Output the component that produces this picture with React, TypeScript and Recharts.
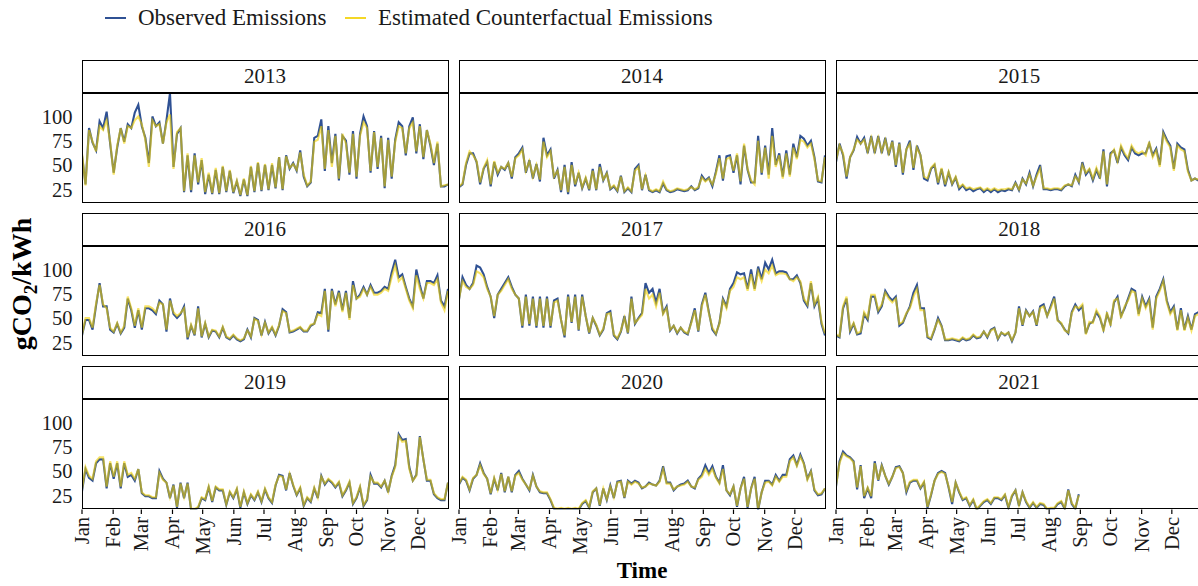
import React from 'react';
import { LineChart, Line, XAxis, YAxis } from 'recharts';

const YEARS = [2013, 2014, 2015, 2016, 2017, 2018, 2019, 2020, 2021];
const MONTHS = ['Jan', 'Feb', 'Mar', 'Apr', 'May', 'Jun', 'Jul', 'Aug', 'Sep', 'Oct', 'Nov', 'Dec'];
const MONTH_STARTS = [0, 31, 59, 90, 120, 151, 181, 212, 243, 273, 304, 334];
const Y_TICKS = [25, 50, 75, 100];
const STEP_DAYS = 3.5;

const obs2013 = [60,30,88,73,65,95,88,105,72, 42,68,88,74,92,88,104,112, 90,78,52,100,90,94,72,96,124, 48,82,88,22,60,22,62,30,55, 20,40,20,45,20,48,22,44,21, 33,18,35,18,48,22,52,23, 50,24,50,26,58,24,60,46,52, 44,65,38,28,32,78,80,97,44, 90,52,82,34,80,75,40,85, 36,82,100,90,42,85,46,80,26, 78,36,76,94,90,60,90,99,62, 92,56,86,70,50,72,28,28,30];
const cf2013 = [62,29,86,74,64,90,86,96,74, 40,70,88,72,90,88,96,100, 92,76,48,96,90,92,72,94,102, 46,84,88,23,62,24,60,32,57, 22,42,21,47,21,49,23,45,22, 34,19,36,19,49,23,53,24, 51,25,52,27,58,25,59,47,51, 45,63,40,29,33,74,76,90,46, 86,48,80,36,82,72,42,82, 38,80,94,88,44,84,48,78,28, 76,38,74,90,88,62,88,94,64, 90,58,86,72,52,74,28,29,30];

const obs2014 = [27,30,50,62,62,53,30,46,53, 28,53,40,48,45,52,36,58, 62,68,42,55,36,51,33,78,60, 66,36,45,22,50,20,53,28,42, 26,36,24,46,24,51,34,42,25, 28,23,39,22,26,22,46,50, 24,40,24,22,24,22,31,24,22, 23,25,24,23,24,28,24,26,39, 34,37,28,43,60,34,59,60, 42,60,30,70,45,32,32,80,40, 70,40,88,50,62,38,65,40,72, 58,80,77,70,75,58,33,32,60];
const cf2014 = [28,31,52,64,60,54,32,47,55, 30,54,42,48,46,52,38,57, 60,66,44,54,38,50,35,74,58, 64,38,44,24,48,22,50,30,42, 27,37,25,44,25,48,35,41,26, 29,24,38,23,27,23,44,48, 25,39,25,23,25,23,33,25,23, 24,26,25,24,25,27,25,27,37, 33,36,30,41,57,36,56,58, 44,62,33,72,46,34,30,75,42, 68,36,80,48,60,36,62,38,68, 56,76,74,68,72,56,34,33,58];

const obs2015 = [53,72,60,36,58,65,79,72,78, 62,80,62,80,62,78,60,75, 48,73,40,66,75,45,70,60,36, 34,46,50,30,46,28,42,30,37, 25,29,24,26,23,25,26,22,25, 22,25,22,24,23,25,24,32, 24,36,30,42,28,40,50,25,25, 24,25,25,24,28,30,28,40,32, 53,40,45,34,45,36,66,28, 62,65,52,68,60,55,68,62,60, 62,62,72,60,67,50,84,76,70, 46,72,68,66,45,34,36,34,34];
const cf2015 = [55,70,62,38,58,66,76,72,76, 64,78,64,78,64,76,62,74, 50,72,42,66,72,47,68,60,38, 36,47,51,32,47,30,43,31,38, 27,30,26,27,25,26,27,24,26, 24,26,24,25,25,26,25,31, 25,35,31,40,29,38,46,26,26, 25,26,26,25,29,30,29,38,33, 50,42,46,36,47,38,64,30, 60,66,54,70,62,57,70,64,62, 64,60,74,58,65,48,82,74,68, 44,70,66,64,43,34,36,35,34];

const obs2016 = [32,48,48,38,63,86,62,62,38, 35,44,34,40,70,58,40,58, 38,60,60,58,54,68,64,36,70, 54,50,54,62,28,42,32,62,30, 44,30,37,36,30,40,30,28,32, 28,26,28,38,30,50,48,32, 46,34,40,32,42,59,56,35, 36,38,40,36,36,42,44,56,55, 80,36,80,64,78,58,78,50,88, 70,74,82,74,84,76,76,78,82, 80,97,110,92,95,82,70,62,100, 84,70,88,88,86,94,68,62,80];
const cf2016 = [33,50,50,40,65,84,64,60,40, 36,45,35,42,72,60,42,60, 40,62,62,60,56,66,64,38,68, 56,52,55,60,30,43,33,60,31, 45,31,38,37,31,41,31,29,33, 29,27,29,37,31,49,47,33, 45,35,41,33,43,57,55,36, 37,39,41,37,37,43,44,54,52, 78,38,78,62,76,56,76,48,84, 70,72,80,74,82,74,74,76,80, 78,92,104,88,92,80,68,60,94, 80,70,86,86,84,90,66,58,78];

const obs2017 = [69,92,84,80,86,104,102,95,82, 72,50,74,80,86,92,82,74, 70,40,74,42,72,40,72,40,72, 40,68,70,48,30,74,45,74,37, 74,52,34,50,42,32,38,55,57, 32,28,36,52,34,72,44,50, 55,86,76,80,66,80,55,62, 37,42,34,40,35,33,46,60,36, 64,76,56,38,33,45,70,62,80, 86,97,95,96,80,100,80,103,90, 107,100,110,96,98,98,97,90,90, 94,86,68,62,86,62,70,44,32];
const cf2017 = [70,88,82,80,84,98,96,92,80, 72,52,74,78,84,90,80,74, 70,42,72,44,70,42,70,42,70, 42,66,68,48,32,72,46,72,38, 72,52,35,50,43,33,39,54,55, 33,29,37,50,35,70,45,49, 53,80,70,74,62,76,54,60, 38,42,35,40,36,34,45,58,37, 62,74,55,40,34,44,68,60,78, 82,92,90,92,78,95,78,98,88, 100,96,104,94,96,96,95,90,88, 92,88,70,64,88,64,72,46,34];

const obs2018 = [32,30,60,70,36,44,33,34,54, 48,72,72,56,62,78,72,68, 72,42,45,54,62,76,84,60,60, 30,28,38,50,42,27,27,28,27, 26,29,27,28,32,29,30,36,30, 38,40,28,35,32,35,26,35, 62,42,58,52,57,42,62,64,52, 62,72,48,44,38,34,56,64,58, 62,34,44,46,56,50,38,54, 44,66,72,52,60,70,80,78,54, 72,62,70,40,72,80,90,68,56, 62,38,60,38,52,38,54,56,56];
const cf2018 = [33,31,62,72,38,45,34,36,56, 50,74,74,58,64,76,70,66, 70,44,46,55,60,72,80,58,58, 31,29,39,48,41,28,28,29,28, 27,30,28,29,33,30,31,36,31, 37,39,29,35,33,35,27,35, 60,43,57,52,56,43,60,62,52, 60,70,47,45,37,35,55,62,60, 64,33,46,45,58,52,36,56, 42,68,70,50,62,68,78,76,52, 70,60,68,38,70,78,88,66,54, 60,37,58,37,50,37,52,54,55];

const obs2019 = [29,52,43,40,58,62,62,32,58, 42,58,32,58,44,46,40,52, 27,24,24,22,22,50,42,38,22, 36,12,38,22,38,10,10,12,22, 20,33,18,33,30,30,15,28,22, 31,12,28,16,25,20,28,18, 31,22,17,35,46,45,30,48, 35,25,32,14,22,18,32,22,45, 36,41,38,33,38,24,30,38,16, 22,33,14,20,46,37,37,33,40, 28,45,56,88,82,83,54,40,46, 86,62,40,40,26,22,20,20,38];
const cf2019 = [31,54,45,42,60,64,64,34,60, 44,60,34,60,46,48,42,52, 28,25,25,23,23,48,41,38,23, 35,13,37,23,37,11,11,13,23, 21,34,19,34,31,31,16,29,23, 32,13,29,17,26,21,29,19, 32,23,18,36,45,44,31,47, 36,26,33,15,23,19,33,23,44, 37,42,39,34,39,25,31,39,17, 23,34,15,21,44,38,38,34,40, 29,44,54,86,80,81,52,40,45, 85,62,41,41,27,23,21,21,38];

const obs2020 = [36,43,40,30,42,46,58,48,42, 26,42,30,48,28,44,28,46, 50,42,36,30,46,34,28,27,27, 20,11,10,11,10,11,10,11,10, 16,19,12,28,32,14,32,20,35, 22,39,40,22,40,37,40,38, 32,34,38,36,35,40,55,38, 38,30,34,36,37,40,34,32,42, 46,56,48,55,44,38,56,30,25, 34,13,32,44,12,32,44,10,28, 40,40,36,46,40,46,46,62,66, 56,67,58,42,50,30,25,26,32];
const cf2020 = [37,44,41,31,43,46,56,47,42, 27,43,31,47,29,44,29,45, 48,41,36,31,45,34,29,28,28, 21,12,11,12,11,12,11,12,11, 17,20,13,29,32,15,32,21,34, 23,38,39,23,39,36,39,37, 33,34,37,36,35,39,52,37, 37,31,34,35,36,39,34,33,41, 44,52,46,52,43,37,52,30,26, 34,14,32,42,13,32,42,11,28, 38,39,35,44,39,44,44,60,64, 55,65,57,41,49,31,26,27,32];

const obs2021 = [34,60,70,66,64,60,31,56,22, 32,22,60,40,56,45,36,44, 54,55,48,28,38,40,40,32,38, 12,25,40,48,50,48,33,16,38, 28,20,22,14,20,10,14,18,20, 16,22,22,20,25,12,24,30, 14,28,18,12,17,12,16,15,10, 11,11,16,18,11,31,16,11,26];
const cf2021 = [35,58,68,65,63,59,33,55,24, 33,24,58,41,55,45,37,44, 53,54,48,30,39,41,41,33,39, 13,26,40,47,49,47,34,18,38, 29,21,23,15,21,11,15,19,21, 17,23,23,21,26,13,25,30, 15,28,19,13,18,13,17,16,11, 12,12,17,19,12,30,17,12,25];

const OBSERVED = [obs2013, obs2014, obs2015, obs2016, obs2017, obs2018, obs2019, obs2020, obs2021];
const COUNTERFACTUAL = [cf2013, cf2014, cf2015, cf2016, cf2017, cf2018, cf2019, cf2020, cf2021];

const FONT = '"Liberation Serif", "Times New Roman", serif';
const BLUE = '#2F5194';
const YELLOW = '#F2D000';
const TEXT = '#1a1a1a';

const COL_X = [81.5, 458.5, 835.7];
const ROW_Y = [59.5, 212.5, 365.5];
const STRIP_H = 33;
const PANEL_W = 367;
const PANEL_H = 110.5;
const Y_AXIS_W = 60;
const SIDE_PAD = 15; // room for the rotated "Jan" label on the inner columns
const X_AXIS_H = 70;

const MonthTick = (props: any) => {
  const { x, y, payload } = props;
  const idx = MONTH_STARTS.indexOf(payload.value);
  return (
    <text
      x={x}
      y={y}
      transform={`rotate(-90 ${x} ${y})`}
      textAnchor="end"
      dominantBaseline="central"
      fontSize={20.5}
      fontFamily={FONT}
      fill={TEXT}
    >
      {MONTHS[idx]}
    </text>
  );
};

const Panel = ({ index }: { index: number }) => {
  const col = index % 3;
  const row = Math.floor(index / 3);
  const obs = OBSERVED[index];
  const cf = COUNTERFACTUAL[index];
  const rows = obs.map((v, i) => ({ day: i * STEP_DAYS, obs: v, cf: cf[i] }));

  const left = COL_X[col];
  const top = ROW_Y[row];
  const showY = col === 0;
  const showX = row === 2;
  const padLeft = showY ? 0 : SIDE_PAD;
  const offset = showY ? Y_AXIS_W : SIDE_PAD;
  const chartW = PANEL_W + offset;
  const chartH = PANEL_H + (showX ? X_AXIS_H : 0);

  return (
    <>
      <div
        style={{
          position: 'absolute', left, top, width: PANEL_W, height: STRIP_H,
          border: '1.3px solid #000', boxSizing: 'border-box', display: 'flex',
          alignItems: 'center', justifyContent: 'center', fontSize: 21, color: TEXT,
        }}
      >
        {YEARS[index]}
      </div>
      <div style={{ position: 'absolute', left: left - offset, top: top + STRIP_H }}>
        <LineChart
          width={chartW}
          height={chartH}
          data={rows}
          margin={{ top: 0, right: 0, bottom: 0, left: padLeft }}
          style={{ fontFamily: FONT }}
        >
          <XAxis
            type="number"
            dataKey="day"
            domain={[0, 365]}
            allowDataOverflow
            ticks={MONTH_STARTS}
            interval={0}
            hide={!showX}
            height={X_AXIS_H}
            axisLine={false}
            tickLine={{ stroke: '#000', strokeWidth: 1.2 }}
            tickSize={4.5}
            tickMargin={3}
            tick={<MonthTick />}
          />
          <YAxis
            type="number"
            domain={[10.3, 124.2]}
            allowDataOverflow
            ticks={Y_TICKS}
            interval={0}
            hide={!showY}
            width={Y_AXIS_W}
            axisLine={false}
            tickLine={false}
            tickSize={0}
            tickMargin={9.5}
            tick={{ fontSize: 20.5, fill: TEXT, fontFamily: FONT }}
          />
          <Line dataKey="obs" stroke={BLUE} strokeWidth={2.1} dot={false} isAnimationActive={false} />
          <Line dataKey="cf" stroke={YELLOW} strokeOpacity={0.6} strokeWidth={2.1} dot={false} isAnimationActive={false} />
        </LineChart>
      </div>
      <div
        style={{
          position: 'absolute', left, top: top + STRIP_H, width: PANEL_W, height: PANEL_H,
          border: '1.3px solid #000', boxSizing: 'border-box', pointerEvents: 'none',
        }}
      />
    </>
  );
};

export default function App() {
  return (
    <div
      style={{
        position: 'absolute', left: 0, top: 0, width: 1198, height: 586,
        overflow: 'hidden', background: '#fff', fontFamily: FONT,
      }}
    >
      {/* legend */}
      <div style={{ position: 'absolute', left: 105, top: 17, width: 21, height: 2, background: BLUE }} />
      <span style={{ position: 'absolute', left: 138, top: 5, fontSize: 23, lineHeight: '26px', color: TEXT, whiteSpace: 'nowrap' }}>
        Observed Emissions
      </span>
      <div style={{ position: 'absolute', left: 345, top: 17, width: 21, height: 2, background: YELLOW, opacity: 0.85 }} />
      <span style={{ position: 'absolute', left: 378, top: 5, fontSize: 23, lineHeight: '26px', color: TEXT, whiteSpace: 'nowrap' }}>
        Estimated Counterfactual Emissions
      </span>

      {YEARS.map((y, i) => (
        <Panel key={y} index={i} />
      ))}

      {/* axis titles */}
      <svg width={1198} height={586} style={{ position: 'absolute', left: 0, top: 0, pointerEvents: 'none' }}>
        <text
          transform="rotate(-90)"
          x={-284}
          y={30.5}
          textAnchor="middle"
          fontFamily={FONT}
          fontWeight="bold"
          fontSize={28}
          fill="#000"
        >
          gCO<tspan dy={6} fontSize={19}>2</tspan><tspan dy={-6}>/kWh</tspan>
        </text>
        <text x={642} y={578} textAnchor="middle" fontFamily={FONT} fontWeight="bold" fontSize={23} fill="#000">
          Time
        </text>
      </svg>
    </div>
  );
}
